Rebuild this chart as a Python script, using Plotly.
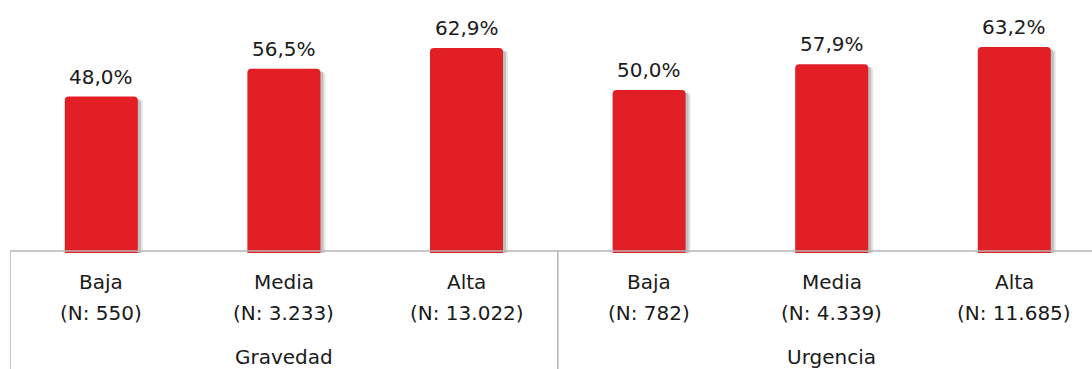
import plotly.graph_objects as go

# Share of cases by priority level, grouped by severity and urgency
groups = ["Gravedad", "Urgencia"]
levels = ["Baja", "Media", "Alta", "Baja", "Media", "Alta"]
sample_sizes = ["550", "3.233", "13.022", "782", "4.339", "11.685"]
shares = [48.0, 56.5, 62.9, 50.0, 57.9, 63.2]

BAR_RED = "#E11F25"
LINE_GRAY = "#B4B4B4"
TEXT_COLOR = "#1A1A1A"
FONT = "'DejaVu Sans', sans-serif"
FONT_SIZE = 20

W, H = 1092, 369
PLOT_LEFT = 10
PLOT_BOTTOM = 253          # pixel row of the bar baseline
CAT_PX = 182.6             # pixel width of one category slot

x = list(range(len(levels)))
x_max = -0.5 + (W - PLOT_LEFT) / CAT_PX
y_max = PLOT_BOTTOM / 3.26

def fmt(v):
    return f"{v:.1f}".replace(".", ",") + "%"

fig = go.Figure()

# soft drop shadow to the right of each bar (two layers for a gentle falloff)
for dx, alpha in [(5, 0.10), (3, 0.16)]:
    fig.add_trace(go.Bar(
        x=[i + dx / CAT_PX for i in x], y=[v - 0.8 for v in shares], width=0.4,
        marker=dict(color=f"rgba(0,0,0,{alpha})", line=dict(width=0), cornerradius=4),
        hoverinfo="skip", showlegend=False,
    ))
fig.add_trace(go.Bar(
    x=x, y=shares, width=0.4,
    marker=dict(color=BAR_RED, line=dict(width=0), cornerradius=4),
    showlegend=False,
))

label_font = dict(size=FONT_SIZE, color=TEXT_COLOR, family=FONT)
annotations = []
for i, v in enumerate(shares):
    annotations.append(dict(
        x=i, y=v, xref="x", yref="y", text=fmt(v), showarrow=False,
        yanchor="middle", yshift=20, font=label_font,
    ))

axis_h = H - PLOT_BOTTOM
def py(pix):
    # convert a pixel row in the axis area to paper coordinates
    return (PLOT_BOTTOM - pix) / PLOT_BOTTOM

for i, (lvl, n) in enumerate(zip(levels, sample_sizes)):
    annotations.append(dict(
        x=i, y=py(282), xref="x", yref="paper", text=lvl, showarrow=False,
        yanchor="middle", font=label_font,
    ))
    annotations.append(dict(
        x=i, y=py(313), xref="x", yref="paper", text=f"(N: {n})", showarrow=False,
        yanchor="middle", font=label_font,
    ))

for g, name in enumerate(groups):
    annotations.append(dict(
        x=g * 3 + 1, y=py(357), xref="x", yref="paper", text=name, showarrow=False,
        yanchor="middle", font=label_font,
    ))

shapes = [
    dict(type="line", xref="paper", yref="paper", x0=0, x1=1, y0=py(251), y1=py(251),
         line=dict(color=LINE_GRAY, width=1.5)),
]
for b in [-0.5, 2.5]:
    shapes.append(dict(type="line", xref="x", yref="paper", x0=b, x1=b,
                       y0=py(251), y1=py(H + 2), line=dict(color=LINE_GRAY, width=1.5)))

fig.update_layout(
    width=W, height=H,
    margin=dict(l=PLOT_LEFT, r=0, t=0, b=axis_h),
    paper_bgcolor="white", plot_bgcolor="white",
    barmode="overlay",
    xaxis=dict(range=[-0.5, x_max], showticklabels=False, showgrid=False,
               zeroline=False, showline=False, fixedrange=True),
    yaxis=dict(range=[0, y_max], visible=False, fixedrange=True),
    annotations=annotations, shapes=shapes,
    font=dict(family=FONT, color=TEXT_COLOR),
)

fig.write_html("out.html", config={"displayModeBar": False})
